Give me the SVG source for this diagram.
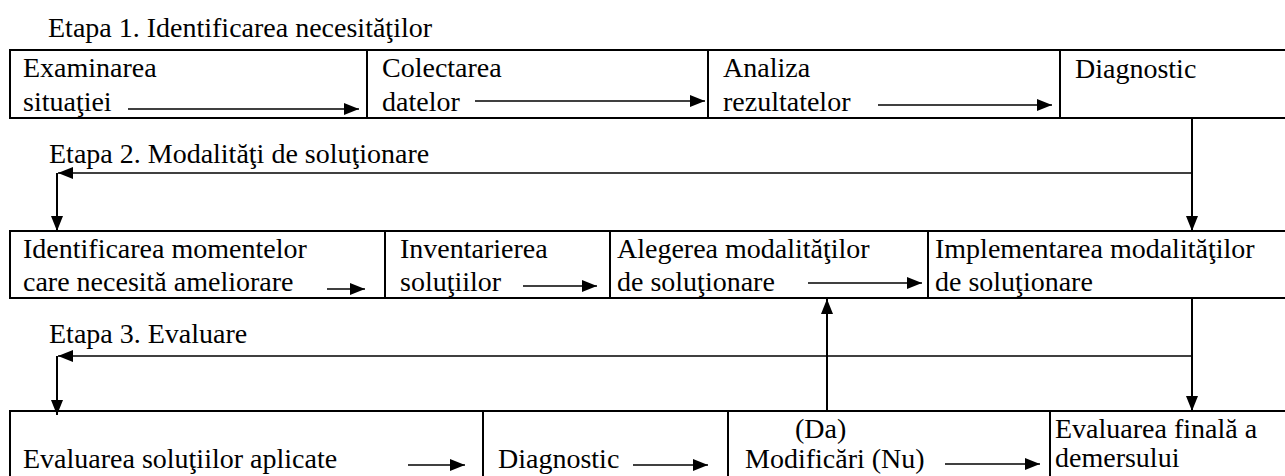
<svg xmlns="http://www.w3.org/2000/svg" width="1285" height="476" viewBox="0 0 1285 476">
<defs>
<marker id="ah" markerUnits="userSpaceOnUse" markerWidth="16" markerHeight="12" refX="15" refY="6" orient="auto" viewBox="0 0 16 12">
<path d="M0,0 L15,6 L0,12 z" fill="#000"/>
</marker>
<style>
.t{font-family:'Liberation Serif','DejaVu Serif',serif;font-size:28px;fill:#000}
.box{fill:none;stroke:#000;stroke-width:2}
.div{stroke:#000;stroke-width:2}
.a{stroke:#000;stroke-width:1.6;fill:none;marker-end:url(#ah)}
.v{stroke:#000;stroke-width:2;fill:none}
</style>
</defs>
<rect width="1285" height="476" fill="#fff"/>
<g id="headings" class="t" font-family="Liberation Serif, serif">
<text x="48" y="37">Etapa 1. Identificarea necesităţilor</text>
<text x="49" y="163">Etapa 2. Modalităţi de soluţionare</text>
<text x="49" y="343">Etapa 3. Evaluare</text>
</g>
<g id="row1" class="t" font-family="Liberation Serif, serif">
<rect class="box" x="10" y="50" width="1290" height="68"/>
<g id="n-examinarea"><text x="23" y="77">Examinarea</text><text x="23" y="111">situaţiei</text></g>
<line class="div" x1="367" y1="50" x2="367" y2="118"/>
<g id="n-colectarea"><text x="382" y="77">Colectarea</text><text x="382" y="111">datelor</text></g>
<line class="div" x1="708" y1="50" x2="708" y2="118"/>
<g id="n-analiza"><text x="723" y="77">Analiza</text><text x="723" y="111">rezultatelor</text></g>
<line class="div" x1="1060" y1="50" x2="1060" y2="118"/>
<g id="n-diagnostic1"><text x="1075" y="78">Diagnostic</text></g>
</g>
<g id="row2" class="t" font-family="Liberation Serif, serif">
<rect class="box" x="10" y="231" width="1290" height="67"/>
<g id="n-identificarea"><text x="23" y="258">Identificarea momentelor</text><text x="23" y="291">care necesită ameliorare</text></g>
<line class="div" x1="385" y1="231" x2="385" y2="298"/>
<g id="n-inventarierea"><text x="400" y="258">Inventarierea</text><text x="400" y="291">soluţiilor</text></g>
<line class="div" x1="610" y1="231" x2="610" y2="298"/>
<g id="n-alegerea"><text x="617" y="258">Alegerea modalităţilor</text><text x="617" y="291">de soluţionare</text></g>
<line class="div" x1="928" y1="231" x2="928" y2="298"/>
<g id="n-implementarea"><text x="935" y="258">Implementarea modalităţilor</text><text x="935" y="291">de soluţionare</text></g>
</g>
<g id="row3" class="t" font-family="Liberation Serif, serif">
<rect class="box" x="10" y="411" width="1290" height="90"/>
<g id="n-evaluarea"><text x="23" y="468">Evaluarea soluţiilor aplicate</text></g>
<line class="div" x1="483" y1="411" x2="483" y2="476"/>
<g id="n-diagnostic2"><text x="498" y="468">Diagnostic</text></g>
<line class="div" x1="728" y1="411" x2="728" y2="476"/>
<g id="n-modificari"><text x="795" y="438">(Da)</text><text x="745" y="468">Modificări (Nu)</text></g>
<line class="div" x1="1050" y1="411" x2="1050" y2="476"/>
<g id="n-final"><text x="1055" y="438">Evaluarea finală a</text><text x="1055" y="467">demersului</text></g>
</g>
<g id="connectors">
<line class="a" x1="128" y1="109" x2="359" y2="109"/>
<line class="a" x1="475" y1="101" x2="705" y2="101"/>
<line class="a" x1="878" y1="105" x2="1052" y2="105"/>
<line class="v" x1="1192" y1="118" x2="1192" y2="173"/>
<line class="a" x1="1192" y1="173" x2="58" y2="173"/>
<line class="a" x1="1192" y1="173" x2="1192" y2="231" style="stroke-width:2"/>
<line class="a" x1="57" y1="173" x2="57" y2="231" style="stroke-width:2"/>
<line class="a" x1="327" y1="289" x2="365" y2="289"/>
<line class="a" x1="523" y1="286" x2="597" y2="286"/>
<line class="a" x1="808" y1="283" x2="922" y2="283"/>
<line class="v" x1="1192" y1="298" x2="1192" y2="356"/>
<line class="a" x1="1192" y1="356" x2="58" y2="356"/>
<line class="a" x1="1192" y1="356" x2="1192" y2="411" style="stroke-width:2"/>
<line class="a" x1="57" y1="356" x2="57" y2="415" style="stroke-width:2"/>
<line class="a" x1="827" y1="411" x2="827" y2="299" style="stroke-width:2"/>
<line class="a" x1="408" y1="465" x2="465" y2="465"/>
<line class="a" x1="633" y1="465" x2="708" y2="465"/>
<line class="a" x1="945" y1="464" x2="1040" y2="464"/>
</g>
</svg>
